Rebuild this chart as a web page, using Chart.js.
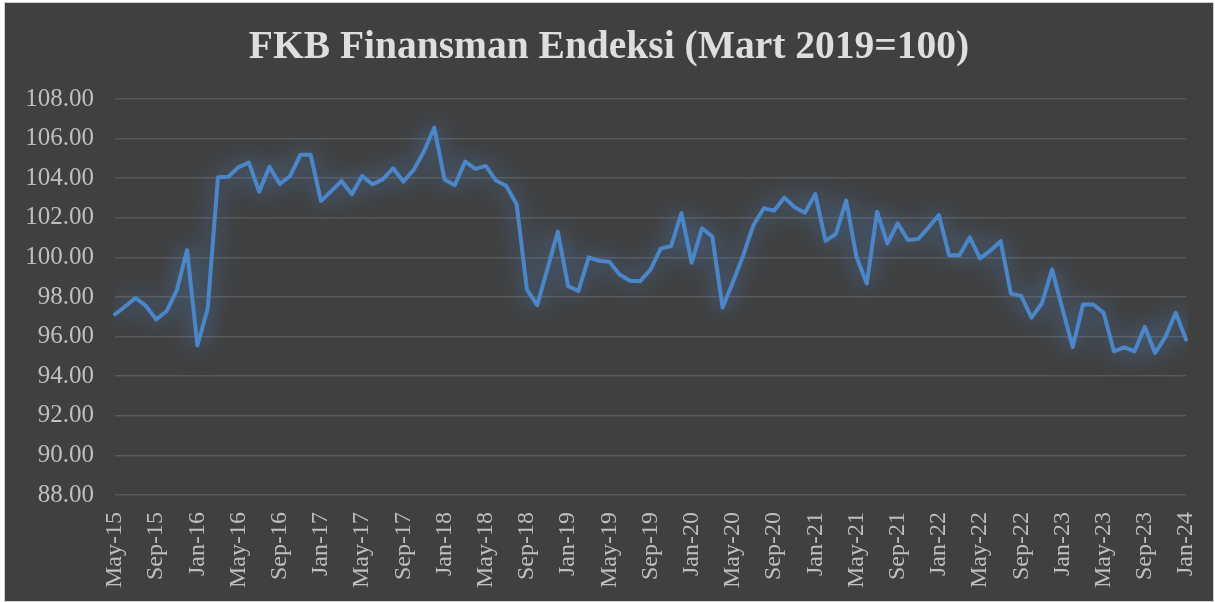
<!DOCTYPE html>
<html>
<head>
<meta charset="utf-8">
<script src="https://cdn.jsdelivr.net/npm/chart.js@4"></script>
<style>
  html, body { margin: 0; padding: 0; background: #ffffff; }
  .box {
    position: absolute; left: 4px; top: 2px;
    width: 1208px; height: 598px;
    background: #404040; border: 1px solid #cfcfcf;
  }
  canvas { display: block; }
</style>
</head>
<body>
<div class="box"><canvas class="chart" width="1208" height="598"></canvas></div>
<script>
const months = [
  "May-15","Jun-15","Jul-15","Aug-15","Sep-15","Oct-15","Nov-15","Dec-15",
  "Jan-16","Feb-16","Mar-16","Apr-16","May-16","Jun-16","Jul-16","Aug-16","Sep-16","Oct-16","Nov-16","Dec-16",
  "Jan-17","Feb-17","Mar-17","Apr-17","May-17","Jun-17","Jul-17","Aug-17","Sep-17","Oct-17","Nov-17","Dec-17",
  "Jan-18","Feb-18","Mar-18","Apr-18","May-18","Jun-18","Jul-18","Aug-18","Sep-18","Oct-18","Nov-18","Dec-18",
  "Jan-19","Feb-19","Mar-19","Apr-19","May-19","Jun-19","Jul-19","Aug-19","Sep-19","Oct-19","Nov-19","Dec-19",
  "Jan-20","Feb-20","Mar-20","Apr-20","May-20","Jun-20","Jul-20","Aug-20","Sep-20","Oct-20","Nov-20","Dec-20",
  "Jan-21","Feb-21","Mar-21","Apr-21","May-21","Jun-21","Jul-21","Aug-21","Sep-21","Oct-21","Nov-21","Dec-21",
  "Jan-22","Feb-22","Mar-22","Apr-22","May-22","Jun-22","Jul-22","Aug-22","Sep-22","Oct-22","Nov-22","Dec-22",
  "Jan-23","Feb-23","Mar-23","Apr-23","May-23","Jun-23","Jul-23","Aug-23","Sep-23","Oct-23","Nov-23","Dec-23",
  "Jan-24"
];

// index values, Mart 2019 = 100
const fkbIndex = [
  97.13, 97.53, 97.95, 97.55, 96.87, 97.28, 98.34, 100.37,
  95.55, 97.42, 104.05, 104.07, 104.56, 104.79, 103.32, 104.58, 103.71, 104.11, 105.18, 105.18,
  102.85, 103.35, 103.86, 103.19, 104.11, 103.69, 103.94, 104.50, 103.83, 104.42, 105.35, 106.56,
  103.94, 103.65, 104.84, 104.47, 104.62, 103.88, 103.61, 102.68, 98.38, 97.59, 99.44, 101.30,
  98.55, 98.31, 100.00, 99.83, 99.78, 99.14, 98.82, 98.80, 99.38, 100.45, 100.57, 102.23,
  99.73, 101.47, 101.05, 97.47, 98.75, 100.10, 101.64, 102.48, 102.36, 103.02, 102.53, 102.26,
  103.20, 100.84, 101.18, 102.87, 100.03, 98.68, 102.31, 100.71, 101.72, 100.88, 100.93, 101.52,
  102.14, 100.11, 100.11, 101.01, 99.95, 100.34, 100.82, 98.17, 98.05, 96.96, 97.67, 99.39,
  97.41, 95.47, 97.62, 97.62, 97.20, 95.26, 95.45, 95.26, 96.49, 95.17, 95.98, 97.20,
  95.85
];

const yMin = 88;
const yMax = 108;
const yStep = 2;
const labelEvery = 4;

const chartTitle = "FKB Finansman Endeksi (Mart 2019=100)";

// soft blue glow under the line
const glow = {
  id: "glow",
  beforeDatasetsDraw(chart) {
    const c = chart.ctx;
    c.save();
    c.shadowColor = "rgba(80,145,225,0.85)";
    c.shadowBlur = 24;
  },
  afterDatasetsDraw(chart) {
    chart.ctx.restore();
  }
};

const ctx = document.querySelector(".chart");

new Chart(ctx, {
  type: "line",
  data: {
    labels: months,
    datasets: [{
      data: fkbIndex,
      borderColor: "#4a86c8",
      borderWidth: 4,
      borderJoinStyle: "round",
      borderCapStyle: "round",
      pointRadius: 0,
      tension: 0,
      fill: false
    }]
  },
  options: {
    responsive: false,
    animation: false,
    layout: { padding: { left: 13.5, right: 13.5, top: 0, bottom: 0 } },
    scales: {
      x: {
        offset: false,
        grid: { display: false, drawTicks: false },
        border: { display: false },
        ticks: {
          autoSkip: false,
          minRotation: 90,
          maxRotation: 90,
          padding: 17,
          color: "#bfbfbf",
          font: { family: "Liberation Serif", size: 24 },
          callback: function (value, index) {
            return index % labelEvery === 0 ? this.getLabelForValue(value) : "";
          }
        },
        afterFit(scale) {
          scale.height = 106;
          scale.paddingLeft = 0;
          scale.paddingRight = 27;
        }
      },
      y: {
        min: yMin,
        max: yMax,
        grid: { color: "#595959", lineWidth: 1.5, drawTicks: false },
        border: { display: false },
        ticks: {
          stepSize: yStep,
          padding: 21,
          color: "#bfbfbf",
          font: { family: "Liberation Serif", size: 25 },
          callback: (v) => v.toFixed(2)
        },
        afterFit(scale) { scale.width = 96.5; }
      }
    },
    plugins: {
      legend: { display: false },
      tooltip: { enabled: false },
      title: {
        display: true,
        text: chartTitle,
        color: "#dedede",
        font: { family: "Liberation Serif", size: 39.5, weight: "bold", lineHeight: 1.2 },
        padding: { top: 21, bottom: 27.6 }
      }
    }
  },
  plugins: [glow]
});
</script>
</body>
</html>
